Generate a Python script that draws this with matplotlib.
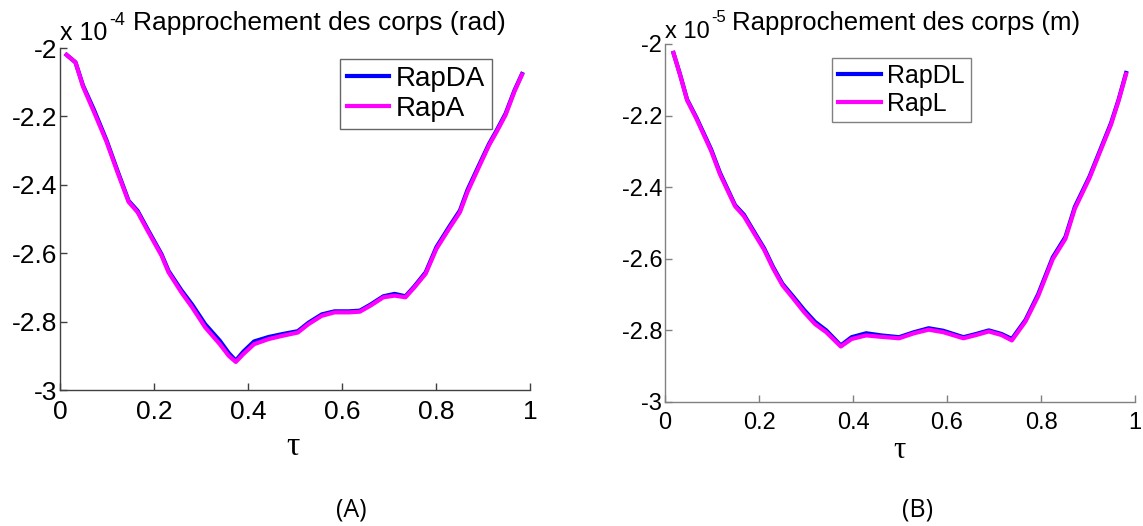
import matplotlib
matplotlib.use("Agg")
import matplotlib.pyplot as plt

# panel A: Rapprochement des corps (rad), values in units of 1e-4
tau_a = [0.014, 0.033, 0.049, 0.072, 0.099, 0.122, 0.146, 0.165, 0.188, 0.216,
         0.231, 0.258, 0.281, 0.309, 0.340, 0.359, 0.374, 0.390, 0.413, 0.444,
         0.475, 0.506, 0.529, 0.557, 0.584, 0.615, 0.638, 0.661, 0.688, 0.712,
         0.735, 0.754, 0.778, 0.801, 0.828, 0.851, 0.867, 0.890, 0.913, 0.929,
         0.948, 0.967, 0.983]
rapA = [-2.020, -2.042, -2.113, -2.186, -2.274, -2.362, -2.450, -2.480, -2.538, -2.607,
        -2.656, -2.714, -2.758, -2.817, -2.866, -2.900, -2.918, -2.895, -2.866, -2.851,
        -2.841, -2.832, -2.807, -2.783, -2.773, -2.773, -2.771, -2.753, -2.729, -2.724,
        -2.729, -2.700, -2.660, -2.587, -2.528, -2.480, -2.421, -2.352, -2.284, -2.245,
        -2.196, -2.127, -2.078]
rapDA = [-2.020, -2.042, -2.110, -2.180, -2.270, -2.358, -2.447, -2.476, -2.534, -2.603,
         -2.652, -2.708, -2.750, -2.808, -2.856, -2.892, -2.914, -2.888, -2.858, -2.845,
         -2.836, -2.828, -2.803, -2.779, -2.770, -2.770, -2.768, -2.750, -2.726, -2.719,
         -2.726, -2.697, -2.656, -2.582, -2.523, -2.475, -2.415, -2.347, -2.280, -2.241,
         -2.192, -2.124, -2.076]

# panel B: Rapprochement des corps (m), values in units of 1e-5
tau_b = [0.018, 0.032, 0.047, 0.067, 0.098, 0.117, 0.149, 0.168, 0.187, 0.211,
         0.230, 0.250, 0.273, 0.296, 0.319, 0.343, 0.374, 0.397, 0.428, 0.460,
         0.498, 0.530, 0.561, 0.592, 0.635, 0.662, 0.689, 0.716, 0.738, 0.767,
         0.794, 0.825, 0.852, 0.872, 0.903, 0.926, 0.949, 0.965, 0.981]
rapL = [-2.025, -2.086, -2.157, -2.209, -2.298, -2.364, -2.453, -2.481, -2.523, -2.575,
        -2.627, -2.674, -2.711, -2.749, -2.782, -2.805, -2.845, -2.824, -2.814, -2.818,
        -2.822, -2.808, -2.798, -2.805, -2.822, -2.813, -2.803, -2.813, -2.828, -2.775,
        -2.704, -2.601, -2.544, -2.460, -2.375, -2.300, -2.225, -2.159, -2.084]
rapDL = [-2.025, -2.085, -2.155, -2.206, -2.294, -2.360, -2.450, -2.477, -2.519, -2.571,
         -2.623, -2.670, -2.706, -2.743, -2.776, -2.800, -2.842, -2.819, -2.808, -2.814,
         -2.819, -2.805, -2.794, -2.801, -2.819, -2.810, -2.800, -2.810, -2.824, -2.771,
         -2.699, -2.596, -2.539, -2.455, -2.371, -2.296, -2.221, -2.156, -2.081]

xticks = [0, 0.2, 0.4, 0.6, 0.8, 1]
xlabels = ["0", "0.2", "0.4", "0.6", "0.8", "1"]
yticks = [-3, -2.8, -2.6, -2.4, -2.2, -2]
ylabels = ["-3", "-2.8", "-2.6", "-2.4", "-2.2", "-2"]

plt.rcParams["font.family"] = ["Liberation Sans", "DejaVu Sans"]

W, H = 1143, 526
fig = plt.figure(figsize=(W / 100, H / 100), dpi=100)


def px(x, y):
    return x / W, 1 - y / H


def setup(ax, spine_col, tick_fs, pad_x):
    ax.set_xlim(0, 1)
    ax.set_ylim(-3, -2)
    ax.set_xticks(xticks)
    ax.set_xticklabels(xlabels)
    ax.set_yticks(yticks)
    ax.set_yticklabels(ylabels)
    for s in ["top", "right"]:
        ax.spines[s].set_visible(False)
    for s in ["left", "bottom"]:
        ax.spines[s].set_color(spine_col)
        ax.spines[s].set_linewidth(1.0)
    ax.tick_params(direction="in", length=5, width=1, color=spine_col,
                   labelsize=tick_fs)
    ax.tick_params(axis="x", pad=pad_x)
    ax.tick_params(axis="y", pad=2)


# ---- panel A
axA = fig.add_axes([60 / W, 1 - 390 / H, 470 / W, 342 / H])
setup(axA, "#404040", 19, 7)
axA.plot(tau_a, rapDA, color="blue", lw=3, label="RapDA")
axA.plot(tau_a, rapA, color="magenta", lw=3, label="RapA")
legA = axA.legend(loc="upper left", bbox_to_anchor=(0.596, 0.968), fontsize=20,
                  frameon=True, fancybox=False, handlelength=1.5,
                  handletextpad=0.25, borderpad=0.25, labelspacing=0.15,
                  borderaxespad=0)
legA.get_frame().set_edgecolor("#404040")
legA.get_frame().set_linewidth(1.0)

# ---- panel B
axB = fig.add_axes([665 / W, 1 - 402 / H, 470 / W, 358 / H])
setup(axB, "#808080", 17, 7)
axB.plot(tau_b, rapDL, color="blue", lw=3, label="RapDL")
axB.plot(tau_b, rapL, color="magenta", lw=3, label="RapL")
legB = axB.legend(loc="upper left", bbox_to_anchor=(0.355, 0.961), fontsize=18,
                  frameon=True, fancybox=False, handlelength=1.7,
                  handletextpad=0.25, borderpad=0.25, labelspacing=0.15,
                  borderaxespad=0)
legB.get_frame().set_edgecolor("#606060")
legB.get_frame().set_linewidth(1.0)

# titles and exponent labels
fig.text(*px(133, 30), "Rapprochement des corps (rad)", fontsize=19,
         ha="left", va="baseline")
fig.text(*px(732, 30), "Rapprochement des corps (m)", fontsize=18.5,
         ha="left", va="baseline")
fig.text(*px(60, 40), "x 10", fontsize=18, ha="left", va="baseline")
fig.text(*px(109, 25), "-4", fontsize=13, ha="left", va="baseline")
fig.text(*px(665, 38), "x 10", fontsize=17, ha="left", va="baseline")
fig.text(*px(711, 22), "-5", fontsize=12, ha="left", va="baseline")

# x labels
fig.text(*px(293, 447), "τ", fontsize=24, ha="center", va="center",
         family=["Liberation Serif", "DejaVu Serif"])
fig.text(*px(899, 450), "τ", fontsize=22, ha="center", va="center",
         family=["Liberation Serif", "DejaVu Serif"])

# panel captions
fig.text(*px(351, 510), "(A)", fontsize=18, ha="center", va="center",
         family=["Open Sans", "DejaVu Sans"])
fig.text(*px(918, 510), "(B)", fontsize=18, ha="center", va="center",
         family=["Open Sans", "DejaVu Sans"])

fig.savefig("out.png", dpi=100)
